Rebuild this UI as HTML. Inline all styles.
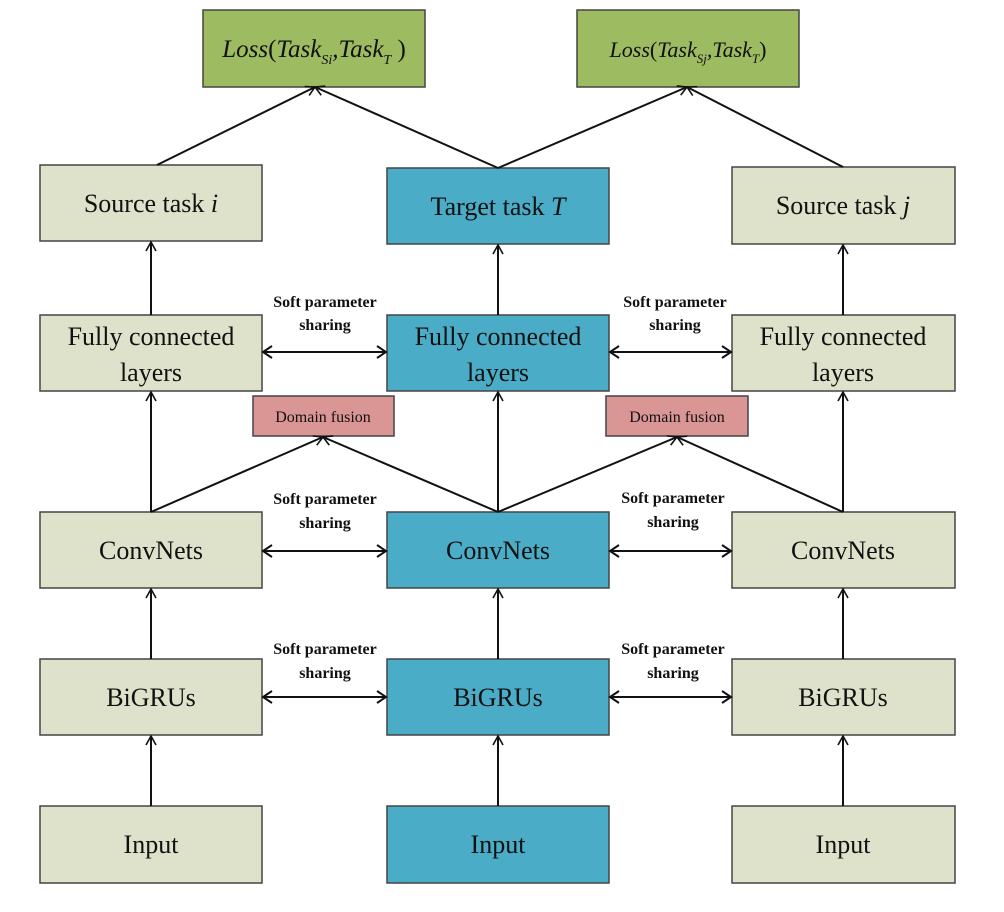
<!DOCTYPE html>
<html><head><style>
html,body{margin:0;padding:0;background:#fff;}
svg{display:block;}
text{font-family:"Liberation Serif",serif;fill:#111;}
.b{font-size:26px;}
.s{font-size:16px;font-weight:bold;}
</style></head><body>
<svg width="1004" height="912" viewBox="0 0 1004 912" xmlns="http://www.w3.org/2000/svg">
<defs>
<marker id="a" markerWidth="12" markerHeight="12" refX="10" refY="6" orient="auto" markerUnits="userSpaceOnUse">
<path d="M1,1 L10,6 L1,11" fill="none" stroke="#111" stroke-width="1.6"/>
</marker>
</defs>
<g stroke="#444" stroke-width="1.5">
<rect x="203" y="10" width="222" height="77" fill="#9dbb61"/>
<rect x="577" y="10" width="222" height="77" fill="#9dbb61"/>
<rect x="40" y="165" width="222" height="76" fill="#dee2cb"/>
<rect x="387" y="168" width="222" height="76" fill="#4aacc6"/>
<rect x="732" y="167" width="223" height="77" fill="#dee2cb"/>
<rect x="40" y="315" width="222" height="76" fill="#dee2cb"/>
<rect x="387" y="315" width="222" height="76" fill="#4aacc6"/>
<rect x="732" y="315" width="223" height="76" fill="#dee2cb"/>
<rect x="253" y="396" width="141" height="40" fill="#d99694"/>
<rect x="606" y="396" width="142" height="40" fill="#d99694"/>
<rect x="40" y="512" width="222" height="76" fill="#dee2cb"/>
<rect x="387" y="512" width="222" height="76" fill="#4aacc6"/>
<rect x="732" y="512" width="223" height="76" fill="#dee2cb"/>
<rect x="40" y="659" width="222" height="76" fill="#dee2cb"/>
<rect x="387" y="659" width="222" height="76" fill="#4aacc6"/>
<rect x="732" y="659" width="223" height="76" fill="#dee2cb"/>
<rect x="40" y="806" width="222" height="77" fill="#dee2cb"/>
<rect x="387" y="806" width="222" height="77" fill="#4aacc6"/>
<rect x="732" y="806" width="223" height="77" fill="#dee2cb"/>
</g>
<g stroke="#111" stroke-width="2" fill="none">
<line x1="157" y1="165" x2="315" y2="87" marker-end="url(#a)"/>
<line x1="498" y1="168" x2="315" y2="87" marker-end="url(#a)"/>
<line x1="498" y1="168" x2="687" y2="87" marker-end="url(#a)"/>
<line x1="843" y1="167" x2="687" y2="87" marker-end="url(#a)"/>
<line x1="151" y1="315" x2="151" y2="242" marker-end="url(#a)"/>
<line x1="498" y1="315" x2="498" y2="245" marker-end="url(#a)"/>
<line x1="843" y1="315" x2="843" y2="245" marker-end="url(#a)"/>
<line x1="151" y1="512" x2="151" y2="392" marker-end="url(#a)"/>
<line x1="498" y1="512" x2="498" y2="392" marker-end="url(#a)"/>
<line x1="843" y1="512" x2="843" y2="392" marker-end="url(#a)"/>
<line x1="151" y1="512" x2="323" y2="437" marker-end="url(#a)"/>
<line x1="498" y1="512" x2="323" y2="437" marker-end="url(#a)"/>
<line x1="498" y1="512" x2="677" y2="437" marker-end="url(#a)"/>
<line x1="843" y1="512" x2="677" y2="437" marker-end="url(#a)"/>
<line x1="151" y1="659" x2="151" y2="589" marker-end="url(#a)"/>
<line x1="498" y1="659" x2="498" y2="589" marker-end="url(#a)"/>
<line x1="843" y1="659" x2="843" y2="589" marker-end="url(#a)"/>
<line x1="151" y1="806" x2="151" y2="736" marker-end="url(#a)"/>
<line x1="498" y1="806" x2="498" y2="736" marker-end="url(#a)"/>
<line x1="843" y1="806" x2="843" y2="736" marker-end="url(#a)"/>
</g>
<g stroke="#111" stroke-width="2" fill="none">
<line x1="263" y1="352" x2="386" y2="352"/>
<path d="M272,346 L263,352 L272,358 M377,346 L386,352 L377,358"/>
<path d="M619,346 L610,352 L619,358 M722,346 L731,352 L722,358"/>
<line x1="610" y1="352" x2="731" y2="352"/>
<path d="M272,545 L263,551 L272,557 M377,545 L386,551 L377,557"/>
<line x1="263" y1="551" x2="386" y2="551"/>
<path d="M619,545 L610,551 L619,557 M722,545 L731,551 L722,557"/>
<line x1="610" y1="551" x2="731" y2="551"/>
<path d="M272,691 L263,697 L272,703 M377,691 L386,697 L377,703"/>
<line x1="263" y1="697" x2="386" y2="697"/>
<path d="M619,691 L610,697 L619,703 M722,691 L731,697 L722,703"/>
<line x1="610" y1="697" x2="731" y2="697"/>
</g>
<g text-anchor="middle">
<text x="314" y="57" font-size="25" font-style="italic">Loss<tspan font-style="normal">(</tspan>Task<tspan font-size="14" dy="7">Si</tspan><tspan dy="-7">,Task</tspan><tspan font-size="14" dy="7">T</tspan><tspan dy="-7" font-style="normal"> )</tspan></text>
<text x="688" y="57" font-size="22" font-style="italic">Loss<tspan font-style="normal">(</tspan>Task<tspan font-size="13" dy="6">Sj</tspan><tspan dy="-6">,Task</tspan><tspan font-size="13" dy="6">T</tspan><tspan dy="-6" font-style="normal">)</tspan></text>
<text class="b" x="151" y="212">Source task <tspan font-style="italic">i</tspan></text>
<text class="b" x="498" y="215">Target task <tspan font-style="italic">T</tspan></text>
<text class="b" x="843" y="214">Source task <tspan font-style="italic">j</tspan></text>
<text class="b" x="151" y="345">Fully connected</text><text class="b" x="151" y="381">layers</text>
<text class="b" x="498" y="345">Fully connected</text><text class="b" x="498" y="381">layers</text>
<text class="b" x="843" y="345">Fully connected</text><text class="b" x="843" y="381">layers</text>
<text x="323" y="422" font-size="16">Domain fusion</text>
<text x="677" y="422" font-size="16">Domain fusion</text>
<text class="b" x="151" y="559">ConvNets</text><text class="b" x="498" y="559">ConvNets</text><text class="b" x="843" y="559">ConvNets</text>
<text class="b" x="151" y="706">BiGRUs</text><text class="b" x="498" y="706">BiGRUs</text><text class="b" x="843" y="706">BiGRUs</text>
<text class="b" x="151" y="853">Input</text><text class="b" x="498" y="853">Input</text><text class="b" x="843" y="853">Input</text>
<text class="s" x="325" y="307">Soft parameter</text><text class="s" x="325" y="330">sharing</text>
<text class="s" x="675" y="307">Soft parameter</text><text class="s" x="675" y="330">sharing</text>
<text class="s" x="325" y="504">Soft parameter</text><text class="s" x="325" y="528">sharing</text>
<text class="s" x="673" y="503">Soft parameter</text><text class="s" x="673" y="527">sharing</text>
<text class="s" x="325" y="654">Soft parameter</text><text class="s" x="325" y="678">sharing</text>
<text class="s" x="673" y="654">Soft parameter</text><text class="s" x="673" y="678">sharing</text>
</g>
</svg>
</body></html>
